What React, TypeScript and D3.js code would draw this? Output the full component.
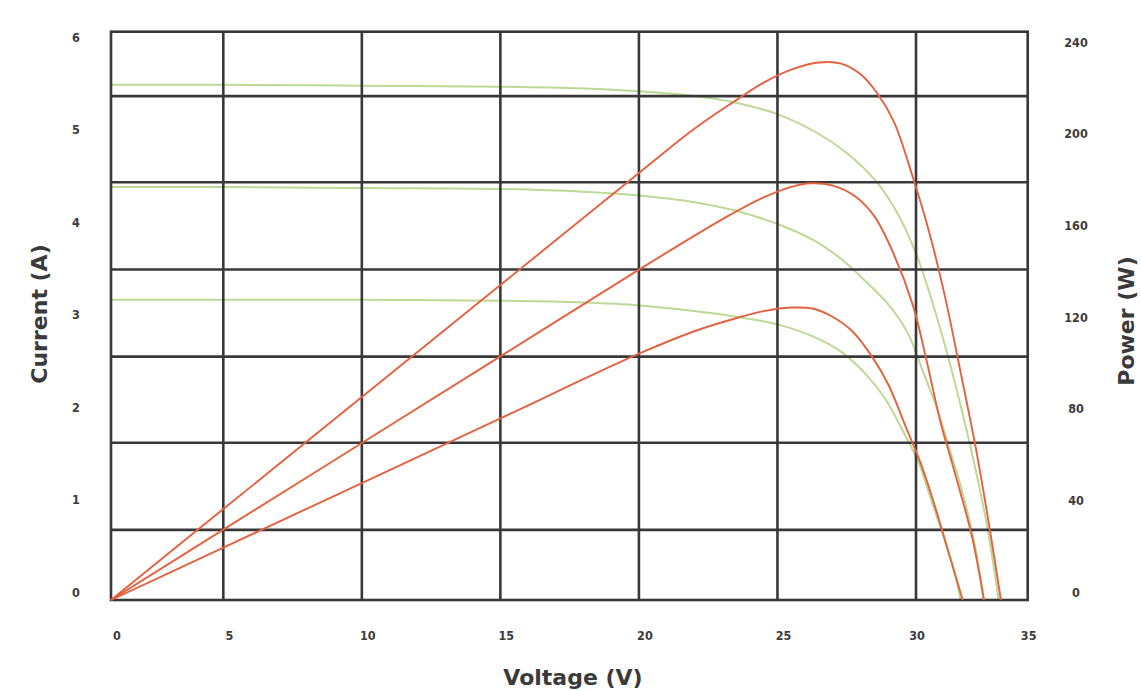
import * as d3 from "d3"

// voltage (V) of each traced point, current in A, power in W
const topV = [0, 5, 10, 15, 18, 20, 22, 23.5, 25, 26.5, 27.5, 28.5, 29.3, 30, 30.7, 31.4, 32, 32.6, 33.2, 33.7]
const topI = [5.44, 5.44, 5.43, 5.42, 5.4, 5.37, 5.32, 5.25, 5.13, 4.92, 4.72, 4.44, 4.1, 3.66, 3.17, 2.6, 2.05, 1.45, 0.76, 0]
const topPV = [0, 5, 10, 15, 20, 22, 23.5, 24.5, 25.5, 26.5, 27.3, 28, 28.6, 29.2, 29.9, 30.6, 31.3, 32, 32.7, 33.3, 33.8]
const topP = [0, 38.4, 85.7, 133, 180.3, 199, 211, 218.5, 224, 227, 226.5, 222, 214, 202, 178, 155, 128, 96, 63, 30, 0]

const midV = [0, 5, 10, 15, 18, 20, 22, 23.5, 25, 26.3, 27.3, 28.2, 29, 29.7, 30.3, 30.9, 31.5, 32.1, 32.6, 33.04]
const midI = [4.36, 4.36, 4.35, 4.34, 4.31, 4.27, 4.2, 4.11, 3.97, 3.8, 3.6, 3.36, 3.12, 2.82, 2.42, 2.05, 1.6, 1.12, 0.62, 0]
const midPV = [0, 5, 10, 15, 20, 22.6, 23.5, 24.5, 25.5, 26.2, 27, 27.8, 28.5, 29.2, 29.9, 30.5, 31.1, 31.7, 32.5, 33.04]
const midP = [0, 29.7, 66.3, 102.9, 139.5, 158, 164, 170, 174.5, 176, 175, 170.5, 162, 146, 124, 100, 75, 55, 27, 0]

const lowV = [0, 5, 10, 15, 18, 20, 22, 23.5, 25, 26.3, 27.3, 28.2, 28.9, 29.5, 30.1, 30.7, 31.3, 31.7, 32]
const lowI = [3.17, 3.17, 3.17, 3.16, 3.14, 3.11, 3.05, 2.99, 2.91, 2.78, 2.62, 2.38, 2.12, 1.8, 1.46, 1.04, 0.62, 0.31, 0]
const lowPV = [0, 5, 10, 15, 20, 22, 23.5, 24.5, 25.5, 26.3, 27, 27.7, 28.4, 29, 29.6, 30.2, 30.8, 31.4, 32.09]
const lowP = [0, 22.1, 49.4, 76.7, 104, 113.5, 119, 122, 123.5, 123, 119.5, 113.5, 103, 91, 74, 58, 41, 22, 0]

const voltTicks = [0, 5, 10, 15, 20, 25, 30, 35]
const currentTicks = [0, 1, 2, 3, 4, 5, 6]
const powerTicks = [0, 40, 80, 120, 160, 200, 240]
const gridCurrent = [0.74, 1.66, 2.57, 3.49, 4.41, 5.32]

const W = 1141, H = 691
const RED = "#e4623f"
const GREEN = "#bcd995"
const GRID = "#383838"
const tickFont = "'DejaVu Sans Condensed', 'DejaVu Sans', sans-serif"

export default function App() {
  // the source chart has narrower end columns, so x is piecewise
  const x = d3.scaleLinear().domain([0, 5, 30, 35]).range([111, 223.3, 916, 1027.7])
  const yI = d3.scaleLinear().domain([0, 6]).range([600, 31.7])
  const yP = d3.scaleLinear().domain([0, 240]).range([600, 31.7])
  // tick labels sit on a slightly tighter span than the frame
  const labI = d3.scaleLinear().domain([0, 6]).range([592, 37.5])
  const labP = d3.scaleLinear().domain([0, 240]).range([592, 42])

  const curve = d3.curveCatmullRom.alpha(0.5)
  const ivLine = (vs: number[], is: number[]) =>
    d3.line<number>().x(v => x(v)).y((_, i) => yI(is[i])).curve(curve)(vs) || ""
  const pvLine = (vs: number[], ps: number[]) =>
    d3.line<number>().x(v => x(v)).y((_, i) => yP(ps[i])).curve(curve)(vs) || ""

  const greens = [ivLine(topV, topI), ivLine(midV, midI), ivLine(lowV, lowI)]
  const reds = [pvLine(topPV, topP), pvLine(midPV, midP), pvLine(lowPV, lowP)]

  const [x0, x1] = [x(0), x(35)]
  const [y0, y1] = [yI(0), yI(6)]

  return (
    <svg width={W} height={H} style={{ position: "absolute", left: 0, top: 0, background: "#fff" }}>
      {greens.map((d, i) => (
        <path key={"g" + i} d={d} fill="none" stroke={GREEN} strokeWidth={2} />
      ))}
      {voltTicks.slice(1, -1).map(v => (
        <line key={"vx" + v} x1={x(v)} x2={x(v)} y1={y1} y2={y0} stroke={GRID} strokeWidth={2.6} />
      ))}
      {gridCurrent.map(c => (
        <line key={"hy" + c} x1={x0} x2={x1} y1={yI(c)} y2={yI(c)} stroke={GRID} strokeWidth={2.6} />
      ))}
      <rect x={x0} y={y1} width={x1 - x0} height={y0 - y1} fill="none" stroke={GRID} strokeWidth={2.6} />
      {reds.map((d, i) => (
        <path key={"r" + i} d={d} fill="none" stroke={RED} strokeWidth={1.9} />
      ))}

      <g fontFamily={tickFont} fontWeight="bold" fontSize={12.5} fill="#3c3c3c" textAnchor="middle">
        {voltTicks.map(v => (
          <text key={"xt" + v} x={x(v) + (v >= 30 ? 1 : 6)} y={640}>{v}</text>
        ))}
        {currentTicks.map(c => (
          <text key={"lt" + c} x={76} y={labI(c) + 4.5}>{c}</text>
        ))}
        {powerTicks.map(p => (
          <text key={"rt" + p} x={1076} y={labP(p) + 4.5}>{p}</text>
        ))}
      </g>

      <g fontFamily="'DejaVu Sans', sans-serif" fontWeight="bold" fontSize={22} fill="#3a3a3a" textAnchor="middle">
        <text transform="translate(47,314) rotate(-90)">Current (A)</text>
        <text transform="translate(1134,321) rotate(-90)">Power (W)</text>
        <text x={573} y={685}>Voltage (V)</text>
      </g>
    </svg>
  )
}
